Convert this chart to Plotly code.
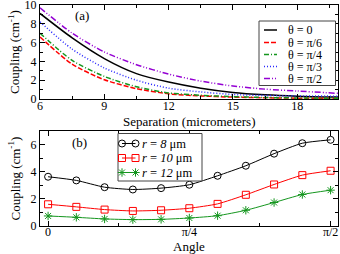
import numpy as np
import plotly.graph_objects as go

# ---- data: panel (a) ----
separation = [6, 7.5, 9, 10.5, 12, 13.5, 15, 16.5, 18, 19.9]
theta_0 = [9.1, 6.5, 4.3, 2.7, 1.8, 1.15, 0.7, 0.45, 0.3, 0.2]
theta_pi6 = [6.6, 3.7, 2.05, 1.1, 0.55, 0.33, 0.2, 0.13, 0.09, 0.06]
theta_pi4 = [7.0, 4.1, 2.4, 1.3, 0.65, 0.4, 0.25, 0.16, 0.11, 0.08]
theta_pi3 = [8.2, 5.3, 3.3, 2.0, 1.15, 0.75, 0.48, 0.38, 0.33, 0.3]
theta_pi2 = [9.7, 7.0, 5.0, 3.65, 2.65, 1.9, 1.38, 1.05, 0.85, 0.6]
theta_labels = ["θ = 0", "θ = π/6", "θ = π/4", "θ = π/3", "θ = π/2"]

# ---- data: panel (b) ----
angle = [0, np.pi/20, np.pi/10, 3*np.pi/20, np.pi/5, np.pi/4,
         3*np.pi/10, 7*np.pi/20, 2*np.pi/5, 9*np.pi/20, np.pi/2]
r8 = [3.63, 3.36, 2.86, 2.69, 2.79, 3.04, 3.7, 4.44, 5.33, 6.1, 6.35]
r10 = [1.6, 1.41, 1.21, 1.11, 1.16, 1.31, 1.63, 2.3, 3.06, 3.75, 4.07]
r12 = [0.74, 0.64, 0.52, 0.47, 0.49, 0.59, 0.76, 1.16, 1.73, 2.32, 2.64]
r_labels = ["<i>r</i> = <i>8</i> μm", "<i>r</i> = <i>10</i> μm", "<i>r</i> = <i>12</i> μm"]
angle_tickvals = [0, np.pi/4, np.pi/2]
angle_ticktext = ["0", "π/4", "π/2"]

FONT = "Liberation Serif, Times New Roman, Times, serif"
GREEN = "#14961e"
colors_a = ["black", "#ff0000", GREEN, "#2a2aff", "#9400d3"]
dashes_a = ["solid", "5px,2px", "5px,2px,1px,2px", "1px,2px", "6px,2px,1px,2px,1px,2px"]
series_a = [theta_0, theta_pi6, theta_pi4, theta_pi3, theta_pi2]

# plot area in pixels (for placing decorations)
L, R, T, B = 40, 338, 5, 226
def px(x):
    return (x - L) / (R - L)
def py(y):
    return (B - y) / (B - T)

fig = go.Figure()
for ys, c, d in zip(series_a, colors_a, dashes_a):
    fig.add_trace(go.Scatter(x=separation, y=ys, mode="lines", xaxis="x", yaxis="y",
                             line=dict(color=c, dash=d, width=1.5, shape="spline", smoothing=0.7),
                             showlegend=False))

colors_b = ["black", "#ff0000", GREEN]
symbols_b = ["circle-open", "square-open", "asterisk-open"]
series_b = [r8, r10, r12]
for ys, c, s in zip(series_b, colors_b, symbols_b):
    fig.add_trace(go.Scatter(x=angle, y=ys, mode="lines+markers", xaxis="x2", yaxis="y2",
                             line=dict(color=c, width=1, shape="spline", smoothing=0.6),
                             marker=dict(symbol=s, size=7, color=c, line=dict(color=c, width=1)),
                             showlegend=False))

# ---- hand-made legends on a pixel overlay subplot ----
leg_a_y = [30, 42.5, 54.5, 66.5, 78.5]
for yy, c, d in zip(leg_a_y, colors_a, dashes_a):
    fig.add_trace(go.Scatter(x=[264, 277], y=[yy, yy], mode="lines", xaxis="x3", yaxis="y3",
                             line=dict(color=c, dash=d, width=1.5), showlegend=False,
                             hoverinfo="skip"))
for yy, t in zip(leg_a_y, theta_labels):
    fig.add_annotation(x=286, y=yy, xref="x3", yref="y3", text=t, showarrow=False,
                       xanchor="left", yanchor="middle", font=dict(family=FONT, size=12, color="black"))
leg_b_y = [143.5, 158, 172.5]
for yy, c, s in zip(leg_b_y, colors_b, symbols_b):
    fig.add_trace(go.Scatter(x=[122, 135.5], y=[yy, yy], mode="lines+markers", xaxis="x3", yaxis="y3",
                             line=dict(color=c, width=1),
                             marker=dict(symbol=s, size=7, color=c, line=dict(color=c, width=1)),
                             showlegend=False, hoverinfo="skip"))
for yy, t in zip(leg_b_y, r_labels):
    fig.add_annotation(x=140, y=yy, xref="x3", yref="y3", text=t, showarrow=False,
                       xanchor="left", yanchor="middle", font=dict(family=FONT, size=12.5, color="black"))

fig.add_shape(type="rect", xref="x3", yref="y3", x0=259, x1=335.5, y0=21, y1=85.5,
              line=dict(color="#444", width=1), fillcolor="white", layer="below")
fig.add_shape(type="rect", xref="x3", yref="y3", x0=118, x1=202, y0=133.5, y1=181,
              line=dict(color="#444", width=1), fillcolor="white", layer="below")

# panel tags and axis titles
fig.add_annotation(x=82, y=15, xref="x3", yref="y3", text="(a)", showarrow=False,
                   xanchor="center", yanchor="middle", font=dict(family=FONT, size=13, color="black"))
fig.add_annotation(x=79, y=142, xref="x3", yref="y3", text="(b)", showarrow=False,
                   xanchor="center", yanchor="middle", font=dict(family=FONT, size=13, color="black"))
titlefont = dict(family=FONT, size=13, color="black")
for xx, yy, t, ang in [(188.5, 121, "Separation (micrometers)", 0),
                       (188.5, 246.5, "Angle", 0),
                       (14, 52, "Coupling (cm<sup>-1</sup>)", -90),
                       (14, 178.5, "Coupling (cm<sup>-1</sup>)", -90)]:
    fig.add_annotation(x=px(xx), y=py(yy), xref="paper", yref="paper", text=t,
                       showarrow=False, textangle=ang, xanchor="center", yanchor="middle",
                       font=titlefont)

tickfont = dict(family=FONT, size=12, color="black")
common = dict(showline=True, linecolor="black", linewidth=1, mirror="allticks",
              ticks="inside", ticklen=5, tickcolor="black", tickwidth=1,
              showgrid=False, zeroline=False, tickfont=tickfont,
              ticklabeloverflow="allow", automargin=False)

fig.update_layout(
    width=340, height=254,
    margin=dict(l=L, r=340 - R, t=T, b=254 - B),
    paper_bgcolor="white", plot_bgcolor="rgba(0,0,0,0)",
    font=dict(family=FONT, color="black"),
    xaxis=dict(domain=[0, 1], range=[6, 19.9], anchor="y", tickvals=[6, 9, 12, 15, 18],
               ticklabelstandoff=-4,
               minor=dict(dtick=1.5, tick0=6, ticks="inside", ticklen=3, tickcolor="black"),
               **common),
    yaxis=dict(domain=[py(99), 1], range=[0, 10], anchor="x", tickvals=[0, 2, 4, 6, 8, 10],
               minor=dict(dtick=1, ticks="inside", ticklen=3, tickcolor="black"),
               **common),
    xaxis2=dict(domain=[0, 1], range=[-0.045, 1.612], anchor="y2", tickvals=angle_tickvals,
                ticktext=angle_ticktext, ticklabelstandoff=-5,
                minor=dict(dtick=np.pi/8, tick0=0, ticks="inside", ticklen=3, tickcolor="black"),
                **common),
    yaxis2=dict(domain=[0, py(131)], range=[0, 7], anchor="x2", tickvals=[0, 2, 4, 6],
                minor=dict(dtick=1, ticks="inside", ticklen=3, tickcolor="black"),
                **common),
    xaxis3=dict(domain=[0, 1], range=[L, R], anchor="y3", visible=False, fixedrange=True),
    yaxis3=dict(domain=[0, 1], range=[B, T], anchor="x3", visible=False, fixedrange=True),
)

fig.write_html("out.html", config={"displayModeBar": False},
               post_script="document.body.style.margin='0';")
